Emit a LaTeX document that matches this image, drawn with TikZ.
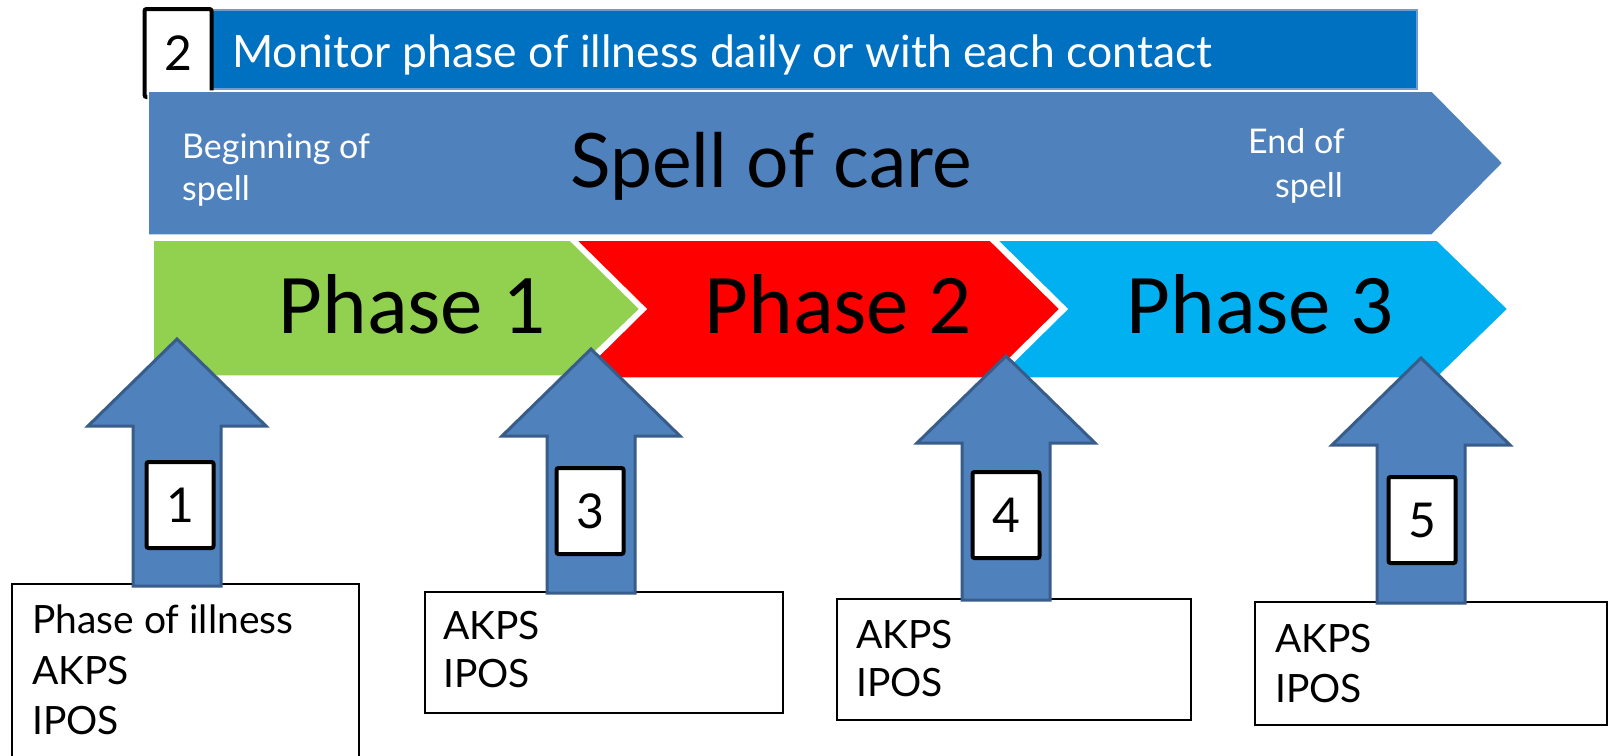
\documentclass[tikz,border=0pt]{standalone}
\usepackage{fontspec}
\setmainfont{Lato}
\newfontfamily\calib{Carlito}
\definecolor{barblue}{HTML}{0070C0}
\definecolor{barline}{HTML}{6F9BD0}
\definecolor{spellblue}{HTML}{4F81BD}
\definecolor{phgreen}{HTML}{92D050}
\definecolor{phred}{HTML}{FF0000}
\definecolor{phcyan}{HTML}{00B0F0}
\definecolor{arrline}{HTML}{385D8A}
\newcommand\fs[1]{\fontsize{#1}{#1}\selectfont}
\tikzset{
  numbox/.style={draw=black, line width=4, fill=white, rounded corners=2, inner sep=0,
    minimum width=67, minimum height=86, font=\fs{48}},
  tbox/.style={draw=black, line width=1.5, fill=white, inner sep=0, anchor=north west},
  tboxtext/.style={anchor=base west, inner sep=0, font=\fs{39}},
  phasetext/.style={anchor=base, inner sep=0, font=\calib\fs{85}},
  chev/.style={draw=white, line width=1.5},
  uparrow/.style={fill=spellblue, draw=arrline, line width=3, line join=miter},
  whitetext/.style={text=white, inner sep=0, font=\fs{34}}
}
\newcommand\uparr[3]{\draw[uparrow] (#1,#2) -- (#1+89,#2+87) -- (#1+44,#2+87) -- (#1+44,#3) -- (#1-44,#3) -- (#1-44,#2+87) -- (#1-89,#2+87) -- cycle;}
\begin{document}
\begin{tikzpicture}[x=1pt,y=-1pt]
\useasboundingbox (0,0) rectangle (1608,755);
\fill[white] (0,0) rectangle (1608,755);
% top bar
\draw[fill=barblue, draw=barline, line width=1.2] (200,10) rectangle (1417,89);
\node[whitetext, font=\fs{44.5}, anchor=base west] (monitor) at (232,67) {Monitor phase of illness daily or with each contact};
\node[numbox, minimum height=88] (n2) at (178,53) {2};
% spell of care
\draw[fill=spellblue, draw=white, line width=1.5] (148,91) -- (1432,91) -- (1503,163) -- (1432,235) -- (148,235) -- cycle;
\node[whitetext, anchor=base west] (beg1) at (182,158) {Beginning of};
\node[whitetext, anchor=base west] (beg2) at (182,200) {spell};
\node[whitetext, anchor=base east] (end1) at (1345,153) {End of};
\node[whitetext, anchor=base east] (end2) at (1343,197) {spell};
\node[anchor=base, inner sep=0, font=\fs{75}] (spell) at (771,187) {Spell of care};
% phases
\draw[chev, fill=phgreen] (153,240) -- (570,240) -- (640,309) -- (570,376) -- (153,376) -- cycle;
\draw[chev, fill=phred] (576,240) -- (990,240) -- (1060,309) -- (990,378) -- (576,378) -- (646,309) -- cycle;
\draw[chev, fill=phcyan] (997,240) -- (1437,240) -- (1508,309) -- (1437,378) -- (997,378) -- (1067,309) -- cycle;
\node[phasetext] (p1) at (412,333) {Phase 1};
\node[phasetext] (p2) at (838,333) {Phase 2};
\node[phasetext] (p3) at (1260,333) {Phase 3};
% text boxes
\node[tbox, minimum width=347, minimum height=190] (t1) at (11,583) {};
\node[tboxtext] (t1a) at (32,633) {Phase of illness};
\node[tboxtext] (t1b) at (32,684) {AKPS};
\node[tboxtext] (t1c) at (32,734) {IPOS};
\node[tbox, minimum width=358, minimum height=121] (t3) at (424,591) {};
\node[tboxtext] (t3a) at (443,639) {AKPS};
\node[tboxtext] (t3b) at (443,687) {IPOS};
\node[tbox, minimum width=354, minimum height=121] (t4) at (836,598) {};
\node[tboxtext] (t4a) at (856,648) {AKPS};
\node[tboxtext] (t4b) at (856,696) {IPOS};
\node[tbox, minimum width=352, minimum height=123] (t5) at (1254,601) {};
\node[tboxtext] (t5a) at (1275,652) {AKPS};
\node[tboxtext] (t5b) at (1275,702) {IPOS};
% up arrows
\uparr{177}{339}{586}
\uparr{591}{349}{593}
\uparr{1006}{356}{600}
\uparr{1421}{358}{603}
% number boxes
\node[numbox] (n1) at (180,505) {1};
\node[numbox] (n3) at (590,511) {3};
\node[numbox] (n4) at (1006,515) {4};
\node[numbox] (n5) at (1422,520) {5};
\end{tikzpicture}
\end{document}
